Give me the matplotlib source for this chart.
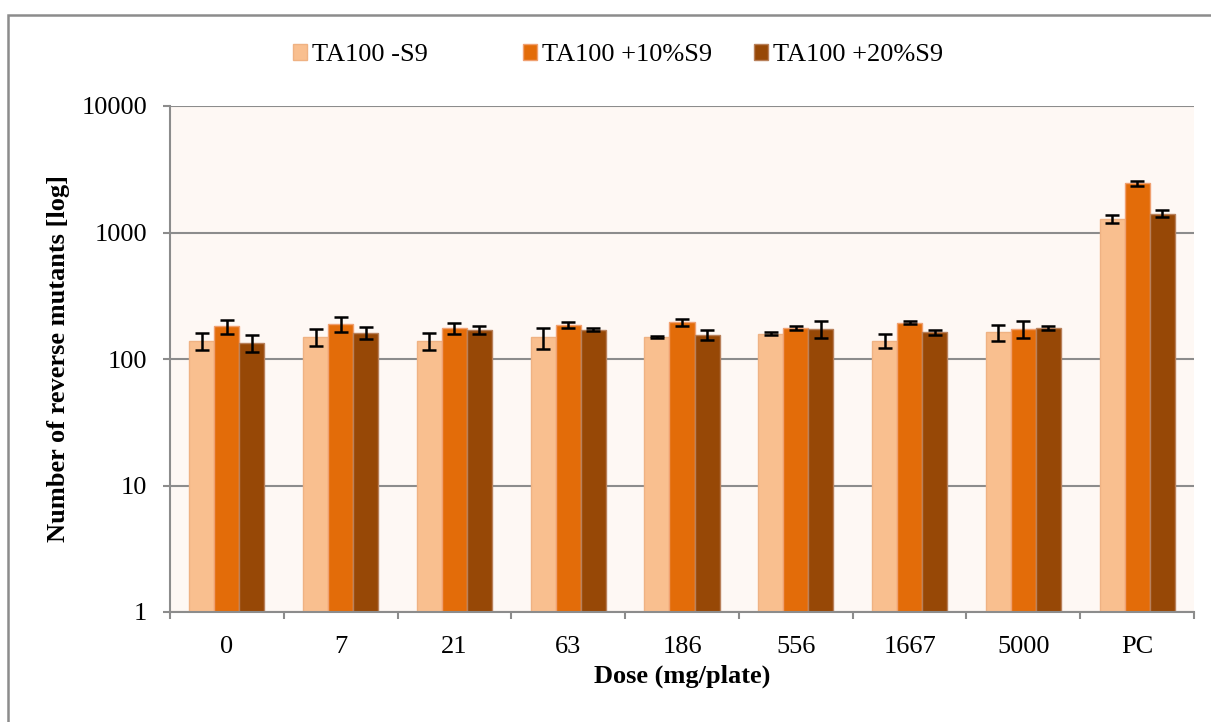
import numpy as np
import matplotlib.pyplot as plt
from matplotlib.patches import Rectangle

plt.rcParams['font.family'] = ['Liberation Serif', 'DejaVu Serif']

# dose groups
doses = ['0', '7', '21', '63', '186', '556', '1667', '5000', 'PC']

# mean revertants per plate and SD
minus_s9 = [139, 149, 139, 149, 149, 159, 140, 163, 1279]
minus_s9_sd = [21, 23, 21, 28, 2, 5, 18, 23, 95]
s9_10 = [182, 189, 176, 186, 196, 176, 194, 173, 2462]
s9_10_sd = [23, 25, 18, 10, 12, 7, 5, 26, 110]
s9_20 = [134, 161, 170, 170, 156, 173, 163, 176, 1408]
s9_20_sd = [21, 18, 12, 5, 14, 26, 7, 6, 85]

series = [
    ('TA100 -S9', minus_s9, minus_s9_sd, '#F9BF8F', '#EFB283'),
    ('TA100 +10%S9', s9_10, s9_10_sd, '#E36C09', '#F0A070'),
    ('TA100 +20%S9', s9_20, s9_20_sd, '#974806', '#B8805A'),
]

fig = plt.figure(figsize=(12.11, 7.22), dpi=100)
ax = fig.add_axes([170/1211, 110/722, 1024/1211, 506/722])
ax.set_facecolor('#FEF8F4')

# outer chart frame
fig.patches.append(Rectangle((8/1211, -0.1), 1.2, (722-15)/722 + 0.1,
                             transform=fig.transFigure, fill=False,
                             edgecolor='#8C8C8C', linewidth=1.8, zorder=0))

x = np.arange(len(doses))
w = 0.22
handles = []
for k, (lab, vals, sd, col, ec) in enumerate(series):
    b = ax.bar(x + (k - 1) * w, vals, w, color=col, edgecolor=ec,
               linewidth=1.0, label=lab, zorder=2)
    ax.errorbar(x + (k - 1) * w, vals, yerr=sd, fmt='none', ecolor='black',
                elinewidth=1.8, capsize=5, capthick=1.8, zorder=3)
    handles.append(b)

ax.set_yscale('log')
ax.set_ylim(1, 10000)
ax.set_xlim(-0.5, len(doses) - 0.5)
ax.set_yticks([1, 10, 100, 1000, 10000])
ax.set_yticklabels(['1', '10', '100', '1000', '10000'])
ax.yaxis.set_minor_locator(plt.NullLocator())
ax.yaxis.grid(True, color='#8C8C8C', linewidth=1.5, zorder=1)
ax.set_axisbelow(True)

ax.set_xticks(x)
ax.set_xticklabels(doses)
ax.set_xticks(np.arange(len(doses) + 1) - 0.5, minor=True)
ax.tick_params(axis='x', which='major', length=0, pad=17, labelsize=19)
ax.tick_params(axis='x', which='minor', length=5, color='#8C8C8C', width=1.5)
ax.tick_params(axis='y', length=5, color='#8C8C8C', width=1.5, pad=11.5,
               labelsize=19)

for s in ['top', 'right']:
    ax.spines[s].set_visible(False)
for s in ['left', 'bottom']:
    ax.spines[s].set_color('#8C8C8C')
    ax.spines[s].set_linewidth(1.5)

ax.set_xlabel('Dose (mg/plate)', fontsize=19, fontweight='bold', labelpad=5)
ax.set_ylabel('Number of reverse mutants [log]', fontsize=19,
              fontweight='bold', labelpad=8)

# one legend entry per slot, evenly spaced across the top
for h, xpos in zip(handles, [293, 523, 754]):
    fig.legend(handles=[h], loc='center left',
               bbox_to_anchor=(xpos/1211, 1 - 55/722), frameon=False,
               fontsize=19, handlelength=0.53, handleheight=0.55,
               handletextpad=0.2, borderpad=0, borderaxespad=0)

fig.savefig('out.png', dpi=100)
